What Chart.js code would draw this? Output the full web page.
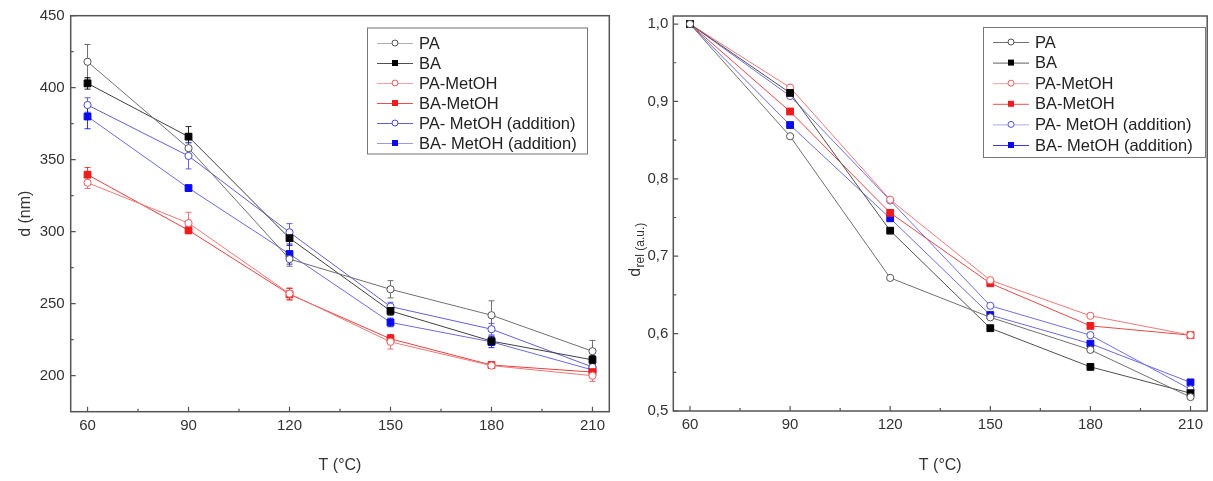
<!DOCTYPE html>
<html>
<head>
<meta charset="utf-8">
<script src="https://cdn.jsdelivr.net/npm/chart.js@4/dist/chart.umd.min.js"></script>
<style>
  html, body { margin: 0; padding: 0; background: #fff; }
  #wrapL { position: absolute; left: 0; top: 0; width: 620px; height: 481px; }
  #wrapR { position: absolute; left: 620px; top: 0; width: 593px; height: 481px; }
</style>
</head>
<body>
<div id="wrapL"><canvas id="cL"></canvas></div>
<div id="wrapR"><canvas id="cR"></canvas></div>
<script>
// ---------- data ----------
const temps = [60, 90, 120, 150, 180, 210];
const xTickValues = [60, 90, 120, 150, 180, 210];
const leftYTicks = [200, 250, 300, 350, 400, 450];
const rightYTicks = [0.5, 0.6, 0.7, 0.8, 0.9, 1.0];

const labels = ['PA', 'BA', 'PA-MetOH', 'BA-MetOH', 'PA- MetOH (addition)', 'BA- MetOH (addition)'];

// left panel: d (nm)
const dPA    = [418, 358, 281, 260, 242, 217];
const dBA    = [403, 366, 295.5, 245, 224, 211];
const dPAMet = [334, 306, 257, 223.5, 207, 200];
const dBAMet = [339.6, 301, 256.5, 225.6, 207.4, 202.5];
const dPAAdd = [388, 352.6, 299.6, 248, 232.3, 206];
const dBAAdd = [380, 330.3, 284.5, 237, 223.5, 204];

// left panel error bars (±)
const ePA    = [12, 4, 5, 6, 10, 7.5];
const eBA    = [4, 7, 5, 3, 3, 3];
const ePAMet = [4, 7.5, 4, 5, 2, 4];
const eBAMet = [5, 2, 4, 3, 2, 2];
const ePAAdd = [5, 9, 6, 3, 4, 2];
const eBAAdd = [8.5, 2, 7, 3, 4, 2];

// right panel: d_rel (a.u.)
const rPA    = [1.0, 0.855, 0.672, 0.621, 0.579, 0.518];
const rBA    = [1.0, 0.911, 0.733, 0.607, 0.557, 0.523];
const rPAMet = [1.0, 0.918, 0.773, 0.669, 0.623, 0.598];
const rBAMet = [1.0, 0.887, 0.756, 0.665, 0.610, 0.598];
const rPAAdd = [1.0, 0.907, 0.772, 0.636, 0.598, 0.528];
const rBAAdd = [1.0, 0.8695, 0.749, 0.624, 0.587, 0.537];

// ---------- styles ----------
const FONT = "'Liberation Sans', Arial, Helvetica, sans-serif";
const TXT = '#333333';
const AXIS = '#555555';

const styleL = [
  { line: '#707070', legendLine: '#b0b0b0', mk: '#555555', fill: '#ffffff', shape: 'circle' },
  { line: '#404040', legendLine: '#505050', mk: '#000000', fill: '#000000', shape: 'rect' },
  { line: '#f07878', legendLine: '#f2a0a0', mk: '#f05a5a', fill: '#ffffff', shape: 'circle' },
  { line: '#e84040', legendLine: '#e85050', mk: '#ee1c1c', fill: '#ee1c1c', shape: 'rect' },
  { line: '#6060d8', legendLine: '#6060d0', mk: '#4848d8', fill: '#ffffff', shape: 'circle' },
  { line: '#6a6ae0', legendLine: '#9a9ae8', mk: '#0a0aee', fill: '#0a0aee', shape: 'rect' }
];
const styleR = [
  { line: '#707070', legendLine: '#707070', mk: '#555555', fill: '#ffffff', shape: 'circle' },
  { line: '#505050', legendLine: '#606060', mk: '#000000', fill: '#000000', shape: 'rect' },
  { line: '#f07878', legendLine: '#f2a0a0', mk: '#f05a5a', fill: '#ffffff', shape: 'circle' },
  { line: '#e84848', legendLine: '#e85050', mk: '#ee1c1c', fill: '#ee1c1c', shape: 'rect' },
  { line: '#7070e0', legendLine: '#a8a8ee', mk: '#5050e0', fill: '#ffffff', shape: 'circle' },
  { line: '#6a6ae0', legendLine: '#3a3ae0', mk: '#0a0aee', fill: '#0a0aee', shape: 'rect' }
];

function makeDatasets(series, styles, errs) {
  return series.map((vals, i) => ({
    label: labels[i],
    data: temps.map((t, j) => ({ x: t, y: vals[j] })),
    errors: errs ? errs[i] : null,
    borderColor: styles[i].line,
    borderWidth: 1,
    pointStyle: styles[i].shape,
    pointRadius: styles[i].shape === 'rect' ? 4.8 : 3.6,
    pointBorderWidth: 1,
    pointBorderColor: styles[i].mk,
    pointBackgroundColor: styles[i].fill,
    legendLine: styles[i].legendLine,
    mk: styles[i].mk,
    mkFill: styles[i].fill,
    tension: 0,
    fill: false
  }));
}

// ---------- plugins ----------
const errorBarPlugin = {
  id: 'errorBars',
  beforeDatasetsDraw(chart) {
    const ctx = chart.ctx, xs = chart.scales.x, ys = chart.scales.y;
    chart.data.datasets.forEach(ds => {
      if (!ds.errors) return;
      ctx.save();
      ctx.strokeStyle = ds.mk;
      ctx.globalAlpha = 0.85;
      ctx.lineWidth = 1;
      ds.data.forEach((p, j) => {
        const e = ds.errors[j];
        if (!e) return;
        const px = xs.getPixelForValue(p.x);
        const yt = ys.getPixelForValue(p.y + e);
        const yb = ys.getPixelForValue(p.y - e);
        ctx.beginPath();
        ctx.moveTo(px, yt); ctx.lineTo(px, yb);
        ctx.moveTo(px - 3, yt); ctx.lineTo(px + 3, yt);
        ctx.moveTo(px - 3, yb); ctx.lineTo(px + 3, yb);
        ctx.stroke();
      });
      ctx.restore();
    });
  }
};

const framePlugin = {
  id: 'frame',
  afterDraw(chart, args, opts) {
    const ctx = chart.ctx, a = chart.chartArea;
    const xs = chart.scales.x, ys = chart.scales.y;
    ctx.save();
    ctx.strokeStyle = AXIS;
    ctx.lineWidth = 1.5;
    ctx.strokeRect(a.left, a.top, a.right - a.left, a.bottom - a.top);
    ctx.lineWidth = 1.2;
    ctx.beginPath();
    opts.xMajor.forEach(v => {
      const px = xs.getPixelForValue(v);
      ctx.moveTo(px, a.bottom); ctx.lineTo(px, a.bottom - 5);
    });
    opts.xMinor.forEach(v => {
      const px = xs.getPixelForValue(v);
      ctx.moveTo(px, a.bottom); ctx.lineTo(px, a.bottom - 3);
    });
    opts.yMajor.forEach(v => {
      const py = ys.getPixelForValue(v);
      ctx.moveTo(a.left, py); ctx.lineTo(a.left + 5, py);
    });
    opts.yMinor.forEach(v => {
      const py = ys.getPixelForValue(v);
      ctx.moveTo(a.left, py); ctx.lineTo(a.left + 3, py);
    });
    ctx.stroke();
    ctx.restore();
  }
};

const boxLegendPlugin = {
  id: 'boxLegend',
  afterDraw(chart, args, o) {
    const ctx = chart.ctx;
    ctx.save();
    ctx.fillStyle = '#ffffff';
    ctx.fillRect(o.x1, o.y1, o.x2 - o.x1, o.y2 - o.y1);
    ctx.strokeStyle = '#777777';
    ctx.lineWidth = 1;
    ctx.strokeRect(o.x1 + 0.5, o.y1 + 0.5, o.x2 - o.x1, o.y2 - o.y1);
    chart.data.datasets.forEach((ds, i) => {
      const y = o.row0 + i * o.step;
      const lx1 = o.x1 + 10, lx2 = o.x1 + 46, mx = o.x1 + 28;
      ctx.strokeStyle = ds.legendLine;
      ctx.lineWidth = 1;
      ctx.beginPath(); ctx.moveTo(lx1, y + 0.5); ctx.lineTo(lx2, y + 0.5); ctx.stroke();
      ctx.strokeStyle = ds.mk;
      ctx.fillStyle = ds.mkFill;
      ctx.beginPath();
      if (ds.pointStyle === 'rect') {
        ctx.rect(mx - 3, y - 3, 6, 6);
        ctx.fill();
      } else {
        ctx.arc(mx, y, 3, 0, Math.PI * 2);
        ctx.fill(); ctx.stroke();
      }
      ctx.fillStyle = '#222';
      ctx.font = '16.5px ' + FONT;
      ctx.textBaseline = 'middle';
      ctx.textAlign = 'left';
      ctx.fillText(ds.label, o.x1 + 52, y + 1);
    });
    ctx.restore();
  }
};

const relTitlePlugin = {
  id: 'relTitle',
  afterDraw(chart, args, o) {
    if (!o.show) return;
    const ctx = chart.ctx;
    ctx.save();
    ctx.translate(o.cx, o.cy);
    ctx.rotate(-Math.PI / 2);
    ctx.fillStyle = TXT;
    ctx.textBaseline = 'middle';
    ctx.textAlign = 'left';
    ctx.font = '16px ' + FONT;
    const w1 = ctx.measureText('d').width;
    ctx.font = '12px ' + FONT;
    const w2 = ctx.measureText('rel (a.u.)').width;
    const x0 = -(w1 + w2) / 2;
    ctx.font = '16px ' + FONT;
    ctx.fillText('d', x0, 0);
    ctx.font = '12px ' + FONT;
    ctx.fillText('rel (a.u.)', x0 + w1 + 0.5, 5);
    ctx.restore();
  }
};

function minorOf(arr) {
  const out = [];
  for (let i = 0; i < arr.length - 1; i++) out.push((arr[i] + arr[i + 1]) / 2);
  return out;
}

function makeChart(id, datasets, cfg) {
  return new Chart(document.getElementById(id), {
    type: 'line',
    data: { datasets },
    options: {
      responsive: true,
      maintainAspectRatio: false,
      animation: false,
      events: [],
      layout: { padding: { left: 0, top: cfg.padTop, right: cfg.padRight, bottom: 0 } },
      plugins: {
        legend: { display: false },
        tooltip: { enabled: false },
        frame: { xMajor: xTickValues, xMinor: minorOf(xTickValues), yMajor: cfg.yTicks, yMinor: minorOf(cfg.yTicks) },
        boxLegend: cfg.legend,
        relTitle: cfg.relTitle
      },
      scales: {
        x: {
          type: 'linear', min: 55, max: 215,
          afterBuildTicks: s => { s.ticks = xTickValues.map(v => ({ value: v })); },
          afterFit: s => { s.height = cfg.xH; },
          grid: { display: false, drawTicks: false },
          border: { display: false },
          ticks: { color: TXT, font: { family: FONT, size: 15 }, padding: 5, maxRotation: 0, autoSkip: false },
          title: { display: true, text: 'T (°C)', color: TXT, font: { family: FONT, size: 16 }, padding: { top: 0, bottom: 6 } }
        },
        y: {
          type: 'linear', min: cfg.yMin, max: cfg.yMax,
          afterBuildTicks: s => { s.ticks = cfg.yTicks.map(v => ({ value: v })); },
          afterFit: s => { s.width = cfg.yW; },
          grid: { display: false, drawTicks: false },
          border: { display: false },
          ticks: { color: TXT, font: { family: FONT, size: 15 }, padding: cfg.yPad, autoSkip: false, callback: cfg.yFmt },
          title: cfg.yTitle
        }
      }
    },
    plugins: [errorBarPlugin, framePlugin, boxLegendPlugin, relTitlePlugin]
  });
}

makeChart('cL',
  makeDatasets([dPA, dBA, dPAMet, dBAMet, dPAAdd, dBAAdd], styleL, [ePA, eBA, ePAMet, eBAMet, ePAAdd, eBAAdd]),
  {
    padTop: 15.7, padRight: 10.7, xH: 69.3, yW: 70.7, yPad: 6,
    yMin: 175, yMax: 450, yTicks: leftYTicks,
    yFmt: v => String(v),
    yTitle: { display: true, text: 'd (nm)', color: TXT, font: { family: FONT, size: 16 }, padding: { top: 16, bottom: 0 } },
    legend: { x1: 367, y1: 27.5, x2: 587, y2: 153.5, row0: 43, step: 20 },
    relTitle: { show: false }
  });

makeChart('cR',
  makeDatasets([rPA, rBA, rPAMet, rBAMet, rPAAdd, rBAAdd], styleR, null),
  {
    padTop: 16, padRight: 1, xH: 70, yW: 53.3, yPad: 5,
    yMin: 0.5, yMax: 1.0104, yTicks: rightYTicks,
    yFmt: v => v.toFixed(1).replace('.', ','),
    yTitle: { display: false },
    legend: { x1: 363, y1: 27, x2: 585, y2: 157, row0: 42, step: 20.6 },
    relTitle: { show: true, cx: 16, cy: 250 }
  });
</script>
</body>
</html>
